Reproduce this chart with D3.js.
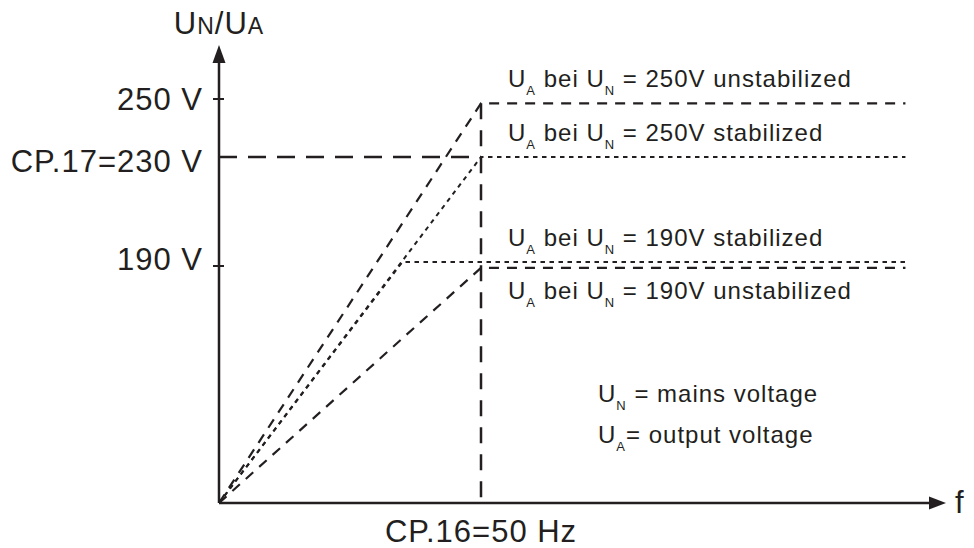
<!DOCTYPE html>
<html>
<head>
<meta charset="utf-8">
<script src="https://cdn.jsdelivr.net/npm/d3@7"></script>
<style>
  body { margin: 0; background: #fff; }
  text { font-family: "Liberation Sans", Arial, sans-serif; fill: #231f20; }
</style>
</head>
<body>
<div id="main"></div>
<script>
// values (f in Hz, U in V)
var yTicks = [190, 230, 250];
var yTickLabels = ["190 V", "CP.17=230 V", "250 V"];
var xMark = 50;
var xMarkLabel = "CP.16=50 Hz";
var fEnd = 131;

var unstab250 = [[0, 0], [50, 248.5], [fEnd, 248.5]];
var stab250 = [[0, 0], [50, 230], [fEnd, 230]];
var stab190 = [[0, 0], [35, 191.5], [fEnd, 191.5]];
var unstab190 = [[0, 0], [50, 188.5], [fEnd, 188.5]];

var seriesLabels = [
  { sub1: "A", sub2: "N", rest: " = 250V unstabilized" },
  { sub1: "A", sub2: "N", rest: " = 250V stabilized" },
  { sub1: "A", sub2: "N", rest: " = 190V stabilized" },
  { sub1: "A", sub2: "N", rest: " = 190V unstabilized" }
];

var W = 974, H = 548, ink = "#231f20";

var svg = d3.select("#main").append("svg")
    .attr("width", W).attr("height", H);

// schematic axes: frequency linear, voltage piecewise
var x = d3.scaleLinear().domain([0, 50]).range([219, 481]);
var y = d3.scaleLinear().domain([0, 190, 230, 250]).range([503, 266, 157, 99]);

var line = d3.line().x(function(d) { return x(d[0]); }).y(function(d) { return y(d[1]); });

// axes with arrow heads
svg.append("line").attr("x1", x(0)).attr("y1", y(0)).attr("x2", x(0)).attr("y2", 60)
    .attr("stroke", ink).attr("stroke-width", 2.5);
svg.append("path").attr("d", "M" + x(0) + ",45 L" + (x(0) - 6.5) + ",63 L" + (x(0) + 6.5) + ",63 Z")
    .attr("fill", ink);
svg.append("line").attr("x1", x(0)).attr("y1", y(0)).attr("x2", 932).attr("y2", y(0))
    .attr("stroke", ink).attr("stroke-width", 2.5);
svg.append("path").attr("d", "M946," + y(0) + " L929," + (y(0) - 6.5) + " L929," + (y(0) + 6.5) + " Z")
    .attr("fill", ink);

// y ticks + labels
var nudge = { 190: 4, 230: 15, 250: 11 };
yTicks.forEach(function(v, i) {
  if (v !== 230) {
    svg.append("line").attr("x1", x(0) - 6).attr("x2", x(0) + 5)
        .attr("y1", y(v)).attr("y2", y(v)).attr("stroke", ink).attr("stroke-width", 2);
  }
  svg.append("text").attr("x", 203).attr("y", y(v) + nudge[v])
      .attr("text-anchor", "end").attr("font-size", 31).attr("letter-spacing", 1)
      .text(yTickLabels[i]);
});

// reference dashed lines (230 V and 50 Hz)
svg.append("line").attr("x1", x(0)).attr("x2", x(xMark)).attr("y1", y(230)).attr("y2", y(230))
    .attr("stroke", ink).attr("stroke-width", 2.5).attr("stroke-dasharray", "18,11");
svg.append("line").attr("x1", x(xMark)).attr("x2", x(xMark)).attr("y1", y(248.5)).attr("y2", y(0))
    .attr("stroke", ink).attr("stroke-width", 2.5).attr("stroke-dasharray", "16,11");

svg.append("text").attr("x", x(xMark)).attr("y", 542).attr("text-anchor", "middle")
    .attr("font-size", 31).attr("letter-spacing", 1).text(xMarkLabel);

// curves
var curves = [
  { d: unstab250, dash: "10,8", w: 2.2 },
  { d: stab250, dash: "4.5,4.5", w: 2 },
  { d: stab190, dash: "4.5,4.5", w: 2 },
  { d: unstab190, dash: "10,8", w: 2.2 }
];
curves.forEach(function(c) {
  svg.append("path").attr("d", line(c.d)).attr("fill", "none")
      .attr("stroke", ink).attr("stroke-width", c.w).attr("stroke-dasharray", c.dash);
});

// labels with subscripts
function subText(xp, yp, parts) {
  var t = svg.append("text").attr("x", xp).attr("y", yp)
      .attr("font-size", 24).attr("letter-spacing", 1);
  var shift = 0;
  parts.forEach(function(p) {
    var ts = t.append("tspan").text(p.s);
    if (p.sub) {
      ts.attr("font-size", 13).attr("dy", 8);
      shift = 8;
    } else if (shift) {
      ts.attr("dy", -shift);
      shift = 0;
    }
  });
  return t;
}

var labelY = [87, 141, 246, 299];
seriesLabels.forEach(function(l, i) {
  subText(508, labelY[i], [
    { s: "U" }, { s: l.sub1, sub: true }, { s: " bei U" }, { s: l.sub2, sub: true }, { s: l.rest }
  ]);
});

subText(598, 402, [{ s: "U" }, { s: "N", sub: true }, { s: " = mains voltage" }]);
subText(598, 443, [{ s: "U" }, { s: "A", sub: true }, { s: "= output voltage" }]);

// axis titles
var title = svg.append("text").attr("x", 219).attr("y", 34).attr("text-anchor", "middle")
    .attr("font-size", 31).attr("letter-spacing", 1);
title.append("tspan").text("U");
title.append("tspan").attr("font-size", 23).text("N");
title.append("tspan").text("/U");
title.append("tspan").attr("font-size", 23).text("A");

svg.append("text").attr("x", 955).attr("y", 513).attr("font-size", 31).text("f");
</script>
</body>
</html>
